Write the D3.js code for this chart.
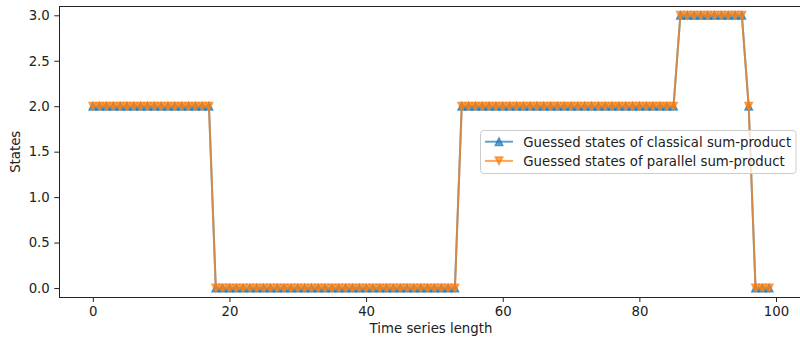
<!DOCTYPE html>
<html>
<head>
<meta charset="utf-8">
<script src="https://cdn.jsdelivr.net/npm/d3@7"></script>
<style>
html,body{margin:0;padding:0;background:#fff;}
svg{display:block;font-family:"DejaVu Sans",sans-serif;}
</style>
</head>
<body>
<svg id="chart" width="800" height="337"></svg>
<script>
// ---- data ----
const classicalStates = [
  2,2,2,2,2,2,2,2,2,2,2,2,2,2,2,2,2,2,
  0,0,0,0,0,0,0,0,0,0,0,0,0,0,0,0,0,0,0,0,0,0,0,0,0,0,0,0,0,0,0,0,0,0,0,0,
  2,2,2,2,2,2,2,2,2,2,2,2,2,2,2,2,2,2,2,2,2,2,2,2,2,2,2,2,2,2,2,2,
  3,3,3,3,3,3,3,3,3,3,
  2,
  0,0,0
];
const parallelStates = [
  2,2,2,2,2,2,2,2,2,2,2,2,2,2,2,2,2,2,
  0,0,0,0,0,0,0,0,0,0,0,0,0,0,0,0,0,0,0,0,0,0,0,0,0,0,0,0,0,0,0,0,0,0,0,0,
  2,2,2,2,2,2,2,2,2,2,2,2,2,2,2,2,2,2,2,2,2,2,2,2,2,2,2,2,2,2,2,2,
  3,3,3,3,3,3,3,3,3,3,
  2,
  0,0,0
];
const xTicks = [0, 20, 40, 60, 80, 100];
const yTicks = [0.0, 0.5, 1.0, 1.5, 2.0, 2.5, 3.0];
const seriesNames = ["Guessed states of classical sum-product", "Guessed states of parallel sum-product"];
const xLabel = "Time series length";
const yLabel = "States";

// ---- layout ----
const svg = d3.select("#chart");
const pLeft = 59, pRight = 803, pTop = 6.3, pBottom = 297.3;
const x = d3.scaleLinear().domain([-4.95, 103.95]).range([pLeft, pRight]);
const y = d3.scaleLinear().domain([-0.102, 3.099]).range([pBottom, pTop]);
const fontSize = 13.3;
const axisColor = "#222";

const series = [
  {name: seriesNames[0], values: classicalStates, color: "#1f77b4", marker: "up"},
  {name: seriesNames[1], values: parallelStates, color: "#ff7f0e", marker: "down"}
];

const ms = 7.8;
function triPath(kind, s) {
  const h = s / 2;
  return kind === "up"
    ? `M0,${-h}L${-h},${h}L${h},${h}Z`
    : `M0,${h}L${-h},${-h}L${h},${-h}Z`;
}

const plot = svg.append("g");
const line = d3.line().x((d, i) => x(i)).y(d => y(d));
series.forEach(s => {
  plot.append("path")
    .attr("d", line(s.values))
    .attr("fill", "none")
    .attr("stroke", s.color)
    .attr("stroke-opacity", 0.7)
    .attr("stroke-width", 2)
    .attr("stroke-linejoin", "round")
    .attr("stroke-linecap", "square");
  plot.selectAll(null).data(s.values).enter().append("path")
    .attr("d", triPath(s.marker, ms))
    .attr("transform", (d, i) => `translate(${x(i)},${y(d)})`)
    .attr("fill", s.color)
    .attr("fill-opacity", 0.7)
    .attr("stroke", s.color)
    .attr("stroke-opacity", 0.7)
    .attr("stroke-width", 1.3)
    .attr("stroke-linejoin", "miter");
});

// ---- axes ----
const xAxis = d3.axisBottom(x).tickValues(xTicks).tickFormat(d3.format("d")).tickSizeInner(4.7).tickSizeOuter(0).tickPadding(4.5);
const yAxis = d3.axisLeft(y).tickValues(yTicks).tickFormat(d3.format(".1f")).tickSizeInner(4.7).tickSizeOuter(0).tickPadding(4.5);

const gx = svg.append("g").attr("transform", `translate(0,${pBottom})`).call(xAxis);
const gy = svg.append("g").attr("transform", `translate(${pLeft},0)`).call(yAxis);
[gx, gy].forEach(g => {
  g.select(".domain").remove();
  g.selectAll(".tick line").attr("stroke", axisColor).attr("stroke-width", 1);
  g.selectAll(".tick text").attr("fill", axisColor).style("font-size", fontSize + "px").style("font-family", "DejaVu Sans");
});

// spines
const sp = svg.append("g").attr("stroke", axisColor).attr("stroke-width", 1).attr("fill", "none");
sp.append("rect").attr("x", pLeft).attr("y", pTop).attr("width", pRight - pLeft).attr("height", pBottom - pTop).attr("shape-rendering", "crispEdges");

// axis labels
svg.append("text").attr("x", (pLeft + pRight) / 2).attr("y", 333.3)
  .attr("text-anchor", "middle").attr("fill", axisColor).style("font-size", fontSize + "px").text(xLabel);
svg.append("text").attr("transform", `translate(20,${(pTop + pBottom) / 2}) rotate(-90)`)
  .attr("text-anchor", "middle").attr("fill", axisColor).style("font-size", fontSize + "px").text(yLabel);

// ---- legend ----
const lg = svg.append("g");
lg.append("rect").attr("x", 480.5).attr("y", 130.5).attr("width", 315.5).attr("height", 43)
  .attr("rx", 3).attr("fill", "#fff").attr("fill-opacity", 0.8).attr("stroke", "#ccc").attr("stroke-width", 1);
series.forEach((s, i) => {
  const cy = 141.7 + i * 19.2;
  lg.append("line").attr("x1", 485).attr("x2", 513).attr("y1", cy).attr("y2", cy)
    .attr("stroke", s.color).attr("stroke-opacity", 0.7).attr("stroke-width", 2);
  lg.append("path").attr("d", triPath(s.marker, ms)).attr("transform", `translate(499,${cy})`)
    .attr("fill", s.color).attr("fill-opacity", 0.7).attr("stroke", s.color).attr("stroke-opacity", 0.7).attr("stroke-width", 1.3);
  lg.append("text").attr("x", 523.3).attr("y", cy + 4.8).attr("fill", axisColor)
    .style("font-size", fontSize + "px").text(s.name);
});
</script>
</body>
</html>
